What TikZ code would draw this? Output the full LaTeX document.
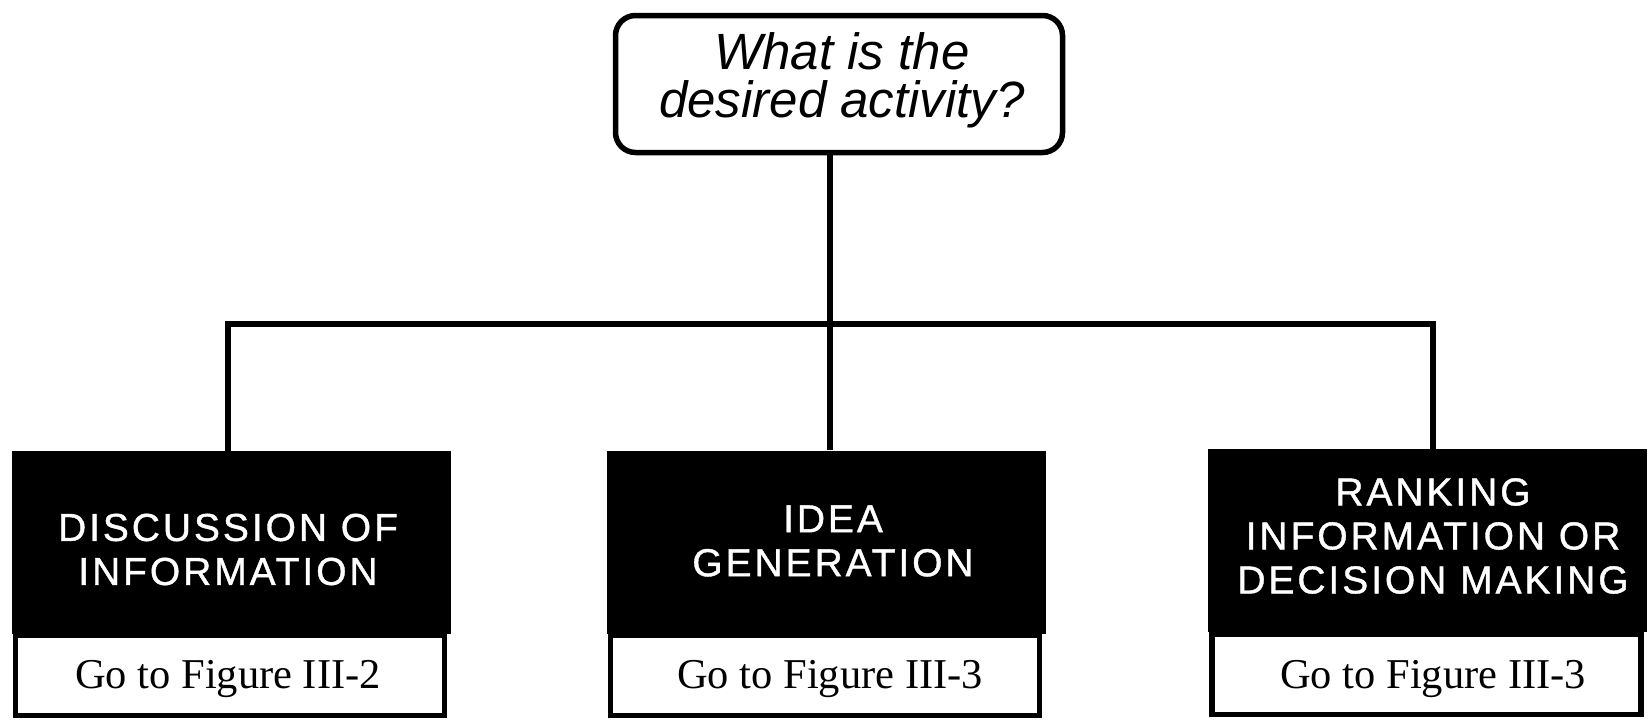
\documentclass[tikz,border=0pt]{standalone}
\usepackage{fontspec}
\setmainfont{Liberation Serif}
\newfontfamily\qfont{Liberation Sans}
\newfontfamily\capfont[LetterSpace=7.5,FakeBold=1]{Liberation Sans}
\begin{document}
\begin{tikzpicture}[x=1pt,y=-1pt,
  conn/.style={line width=5.5pt},
  qbox/.style={draw,line width=5.5pt,rounded corners=20pt,minimum width=447pt,minimum height=137pt,inner sep=0pt},
  qtext/.style={font=\qfont\itshape\fontsize{51pt}{48pt}\selectfont,align=center,inner sep=0pt},
  blackbox/.style={fill=black,minimum width=439pt,minimum height=183pt,inner sep=0pt},
  captext/.style={text=white,font=\capfont\fontsize{39pt}{44pt}\selectfont,align=center,inner sep=0pt},
  gobox/.style={draw,fill=white,line width=5.5pt,minimum width=429pt,minimum height=80pt,inner sep=0pt},
  gotext/.style={font=\fontsize{42.5pt}{48pt}\selectfont,inner sep=0pt}]
\useasboundingbox (0,0) rectangle (1648,720);
% question box
\node[qbox] (q) at (839,84) {};
\node[qtext] (qt) at (842,80) {What is the\\desired activity?};
% junction points
\coordinate (jl) at (228,324);
\coordinate (jm) at (830,324);
\coordinate (jr) at (1433,324);
% white boxes
\node[gobox] (w1) at (230,675.5) {};
\node[gobox] (w2) at (825,675.5) {};
\node[gobox] (w3) at (1426.5,674.5) {};
% black boxes
\node[blackbox] (b1) at (231.5,542.5) {};
\node[blackbox] (b2) at (826,542) {};
\node[blackbox] (b3) at (1427.5,540.5) {};
% connectors
\draw[conn] (q.south -| jm) -- (jm);
\draw[conn] (b1.north -| jl) -- (jl) -- (jr) -- (b3.north -| jr);
\draw[conn] (jm) -- (b2.north -| jm);
% texts
\node[captext] (t1) at (228,549.5) {DISCUSSION OF\\INFORMATION};
\node[captext] (t2) at (833,541) {IDEA\\GENERATION};
\node[captext] (t3) at (1433,536) {RANKING\\INFORMATION OR\\DECISION MAKING};
\node[gotext,anchor=base] (g1) at (228,688) {Go to Figure III-2};
\node[gotext,anchor=base] (g2) at (830,688) {Go to Figure III-3};
\node[gotext,anchor=base] (g3) at (1433,688) {Go to Figure III-3};
\end{tikzpicture}
\end{document}
